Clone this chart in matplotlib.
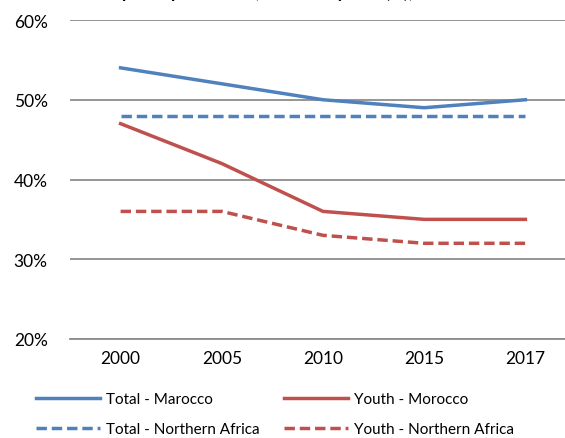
import matplotlib
matplotlib.use("Agg")
import matplotlib.pyplot as plt
from matplotlib.ticker import FuncFormatter

years = ["2000", "2005", "2010", "2015", "2017"]
total_morocco = [54, 52, 50, 49, 50]
youth_morocco = [47, 42, 36, 35, 35]
total_nafrica = [48, 48, 48, 48, 48]
youth_nafrica = [36, 36, 33, 32, 32]

blue = "#4F81BD"
red = "#C0504D"

plt.rcParams["font.family"] = ["Lato", "DejaVu Sans"]

fig = plt.figure(figsize=(5.65, 4.39), dpi=100)
# axes deliberately run past the right edge (cropped like the original)
ax = fig.add_axes([70 / 565, 1 - 340 / 439, 506 / 565, 319 / 439])

x = range(len(years))
lw = 2.5
ax.plot(x, total_morocco, color=blue, lw=lw, label="Total - Marocco")
ax.plot(x, youth_morocco, color=red, lw=lw, label="Youth - Morocco")
ax.plot(x, total_nafrica, color=blue, lw=lw, ls=(0, (3, 1.4)), label="Total - Northern Africa")
ax.plot(x, youth_nafrica, color=red, lw=lw, ls=(0, (3, 1.4)), label="Youth - Northern Africa")

ax.set_xlim(-0.5, len(years) - 0.5)
ax.set_ylim(20, 60)
ax.set_yticks([20, 30, 40, 50, 60])
ax.yaxis.set_major_formatter(FuncFormatter(lambda v, p: f"{v:.0f}%"))
ax.set_xticks(list(x))
ax.set_xticklabels(years)
ax.grid(axis="y", color="#8c8c8c", lw=1.3)
ax.set_axisbelow(True)
for s in ["top", "right", "left"]:
    ax.spines[s].set_visible(False)
ax.spines["bottom"].set_color("#8c8c8c")
ax.spines["bottom"].set_linewidth(1.3)
ax.tick_params(axis="both", length=0, labelsize=12.5, colors="black")
ax.tick_params(axis="y", pad=16)
ax.tick_params(axis="x", pad=8)

# title that is cut off by the top edge
fig.text(0.04, 1.0 - 1 / 439, "Labour force participation rate, total and youth (%), 2000-2017",
         fontsize=13, fontweight="bold", fontstyle="italic", va="bottom", ha="left")

handles, labels = ax.get_legend_handles_labels()
order = [0, 2, 1, 3]
fig.legend([handles[i] for i in order], [labels[i] for i in order],
           ncol=2, loc="lower left", bbox_to_anchor=(22 / 565, -12 / 439),
           frameon=False, fontsize=11, handlelength=4.2, handletextpad=0.4,
           columnspacing=1.6, labelspacing=1.05)

fig.savefig("out.png", dpi=100)
